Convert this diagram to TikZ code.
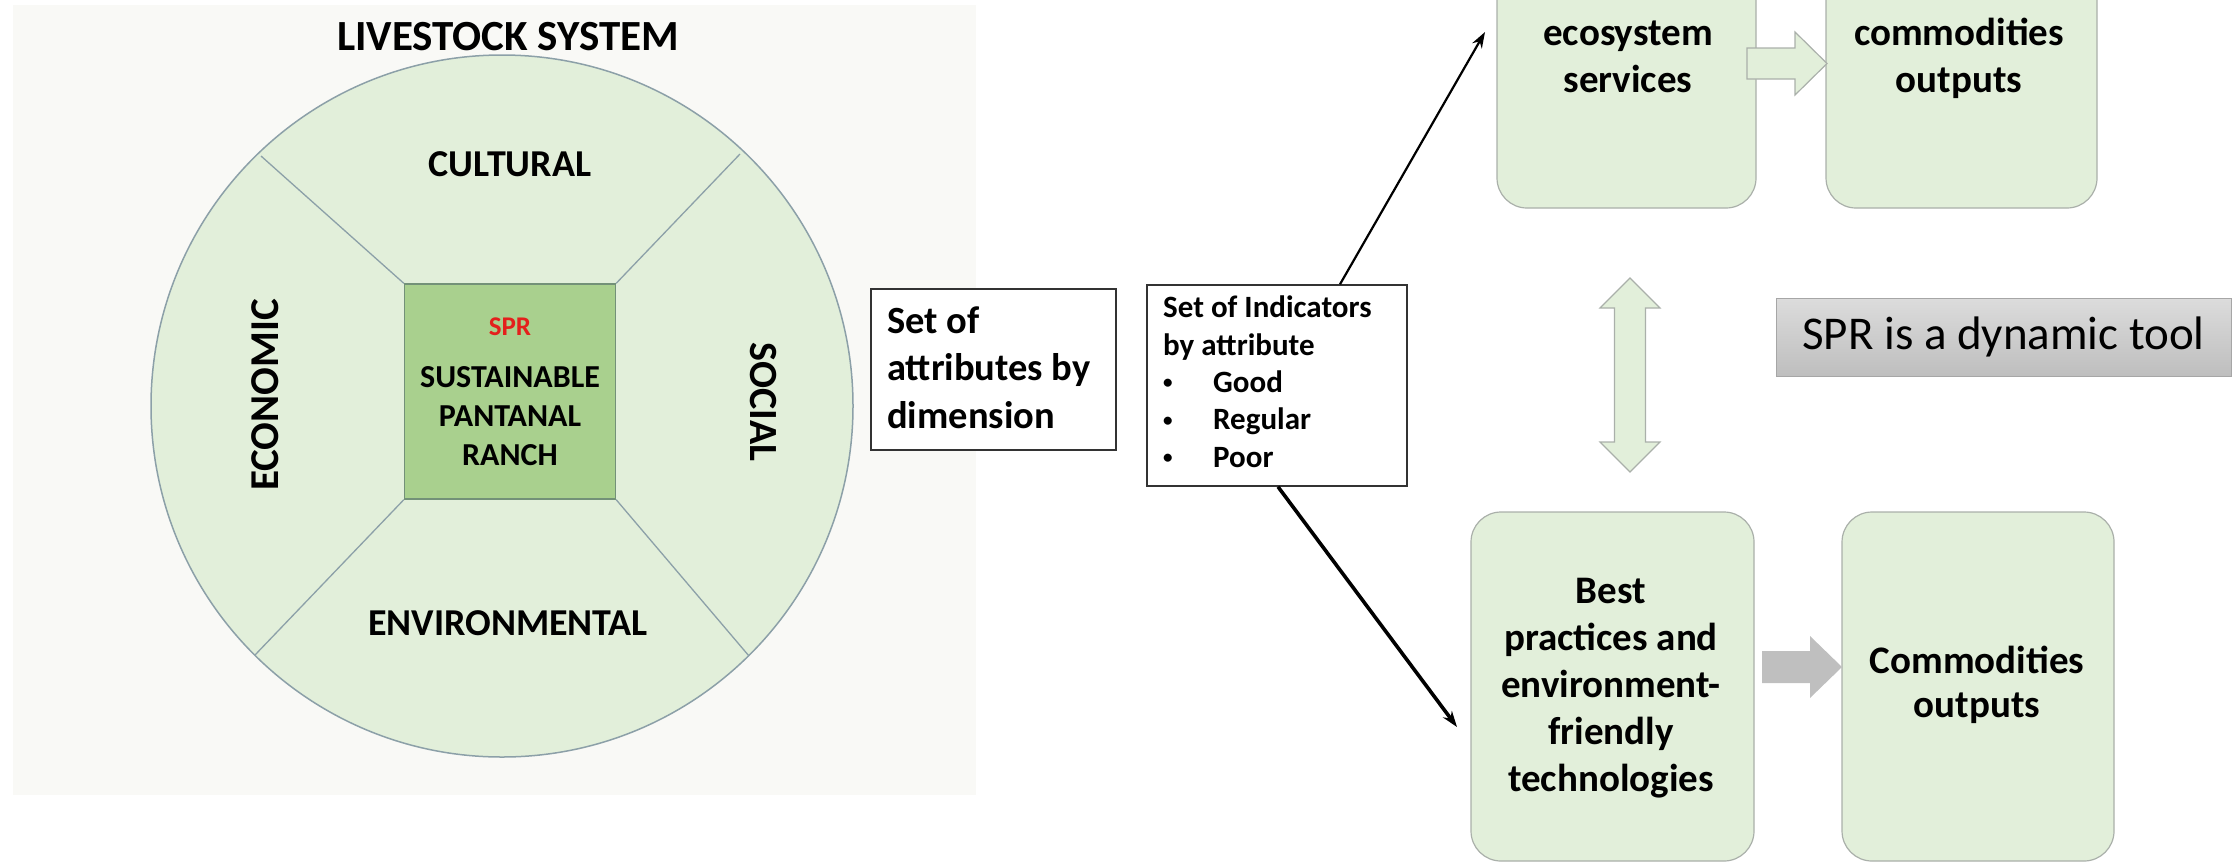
\documentclass[tikz,border=0pt]{standalone}
\usepackage{fontspec}
\setmainfont{Carlito}
\usetikzlibrary{arrows.meta}
\definecolor{lgreen}{RGB}{226,239,218}
\definecolor{mgreen}{RGB}{169,208,142}
\definecolor{circline}{RGB}{140,160,168}
\definecolor{sqline}{RGB}{115,145,120}
\definecolor{boxline}{RGB}{170,176,170}
\definecolor{sprred}{RGB}{228,32,28}
\definecolor{panelbg}{RGB}{249,249,246}
\definecolor{arrowgray}{RGB}{191,191,191}
\definecolor{greytop}{RGB}{220,220,220}
\definecolor{greybot}{RGB}{190,190,190}
\newcommand{\smbullet}{\makebox[50pt][l]{\raisebox{3.5pt}{\fontsize{19}{19}\selectfont\textbullet}}}
\begin{document}
\begin{tikzpicture}[x=1pt,y=-1pt,
  dimlbl/.style={font=\fontsize{38}{46}\selectfont\bfseries, inner sep=0pt},
  divline/.style={draw=circline, line width=1.3pt},
  sqbox/.style={draw=sqline, fill=mgreen, line width=1.3pt, minimum width=211pt, minimum height=215pt, inner sep=0pt, align=center, font=\fontsize{32}{39}\selectfont\bfseries},
  plainbox/.style={draw=black!80, line width=1.5pt, fill=white, inner sep=0pt},
  rbox/.style={draw=boxline, fill=lgreen, rounded corners=30pt, line width=1.2pt, inner sep=0pt},
  rtext/.style={inner sep=0pt, align=center, font=\fontsize{39}{47}\selectfont\bfseries, anchor=base},
  blockgreen/.style={fill=lgreen, draw=boxline, line width=1.2pt},
  link/.style={draw=black, line width=2.4pt, -{Stealth[length=16pt,width=11pt]}}
]
\useasboundingbox (0,0) rectangle (2237,863);
\begin{scope}
\clip (0,0) rectangle (2237,863);

% faint background panel
\fill[panelbg] (13,5) rectangle (976,795);

% title
\node[inner sep=0pt, font=\fontsize{43}{50}\selectfont\bfseries] (title) at (508,37) {LIVESTOCK SYSTEM};

% circle
\node[circle, draw=circline, fill=lgreen, line width=1.5pt, minimum size=702pt, inner sep=0pt] (circ) at (502,406) {};

% centre square
\node[sqbox] (sq) at (510,391.5) {{\color{sprred}\fontsize{27}{30}\selectfont SPR}\\[13pt]SUSTAINABLE\\PANTANAL\\RANCH};

% division lines
\coordinate (c1) at (261,156);
\coordinate (c2) at (740,154);
\coordinate (c3) at (255,655);
\coordinate (c4) at (749,656);
\draw[divline] (sq.north west) -- (c1);
\draw[divline] (sq.north east) -- (c2);
\draw[divline] (sq.south west) -- (c3);
\draw[divline] (sq.south east) -- (c4);

% dimension labels
\node[dimlbl] (cult) at (510,164) {CULTURAL};
\node[dimlbl] (env) at (508,623) {ENVIRONMENTAL};
\node[dimlbl, rotate=90, font=\fontsize{41}{46}\selectfont\bfseries] (eco) at (265,395) {ECONOMIC};
\node[dimlbl, rotate=-90, font=\fontsize{40}{46}\selectfont\bfseries] (soc) at (763,402) {SOCIAL};

% attribute box
\node[plainbox, minimum width=245pt, minimum height=161pt] (b1) at (993.5,369.5) {};
\node[inner sep=0pt, anchor=base west, align=left, font=\fontsize{38.5}{47.5}\selectfont\bfseries] (b1t) at (887,428) {Set of\\attributes by\\dimension};

% indicator box
\node[plainbox, minimum width=260pt, minimum height=201pt] (b2) at (1277,385.5) {};
\node[inner sep=0pt, anchor=base west, align=left, font=\fontsize{31}{37.3}\selectfont\bfseries] (b2t) at (1163,467) {Set of Indicators\\by attribute\\\smbullet Good\\\smbullet Regular\\\smbullet Poor};

% right boxes
\node[rbox, minimum width=259pt, minimum height=326pt] (es) at (1626.5,45) {};
\node[rbox, minimum width=271pt, minimum height=326pt] (nc) at (1961.5,45) {};
\node[rbox, minimum width=283pt, minimum height=349pt] (bp) at (1612.5,686.5) {};
\node[rbox, minimum width=272pt, minimum height=349pt] (co) at (1978,686.5) {};

\node[rtext] (est) at (1628,92) {ecosystem\\services};
\node[rtext] (nct) at (1959,92) {commodities\\outputs};
\node[rtext] (bpt) at (1611,791) {Best\\practices and\\environment-\\friendly\\technologies};
\node[rtext, font=\fontsize{39}{44}\selectfont\bfseries] (cot) at (1977,717) {Commodities\\outputs};

% block arrows between boxes
\draw[blockgreen] (1747,48) -- (1795,48) -- (1795,32) -- (1827,63.5) -- (1795,95) -- (1795,79) -- (1747,79) -- cycle;
\fill[arrowgray] (1762,651) -- (1810,651) -- (1810,636) -- (1842,667) -- (1810,698) -- (1810,683) -- (1762,683) -- cycle;

% double arrow
\draw[blockgreen] (1630,278) -- (1660,308) -- (1645.5,308) -- (1645.5,442) -- (1660,442) -- (1630,472) -- (1600,442) -- (1614.5,442) -- (1614.5,308) -- (1600,308) -- cycle;

% SPR is a dynamic tool
\node[top color=greytop, bottom color=greybot, draw=black!35, line width=1pt, minimum width=455pt, minimum height=78pt, inner sep=0pt, font=\fontsize{47}{56}\selectfont] (dyn) at (2003.5,337) {SPR is a dynamic tool};

% connectors
\coordinate (t1) at (1485,32);
\coordinate (t2) at (1457,727);
\draw[link, line width=2.2pt] ([xshift=63pt]b2.north) -- (t1);
\draw[link, line width=3.6pt] ([xshift=1pt]b2.south) -- (t2);
\end{scope}
\end{tikzpicture}
\end{document}
